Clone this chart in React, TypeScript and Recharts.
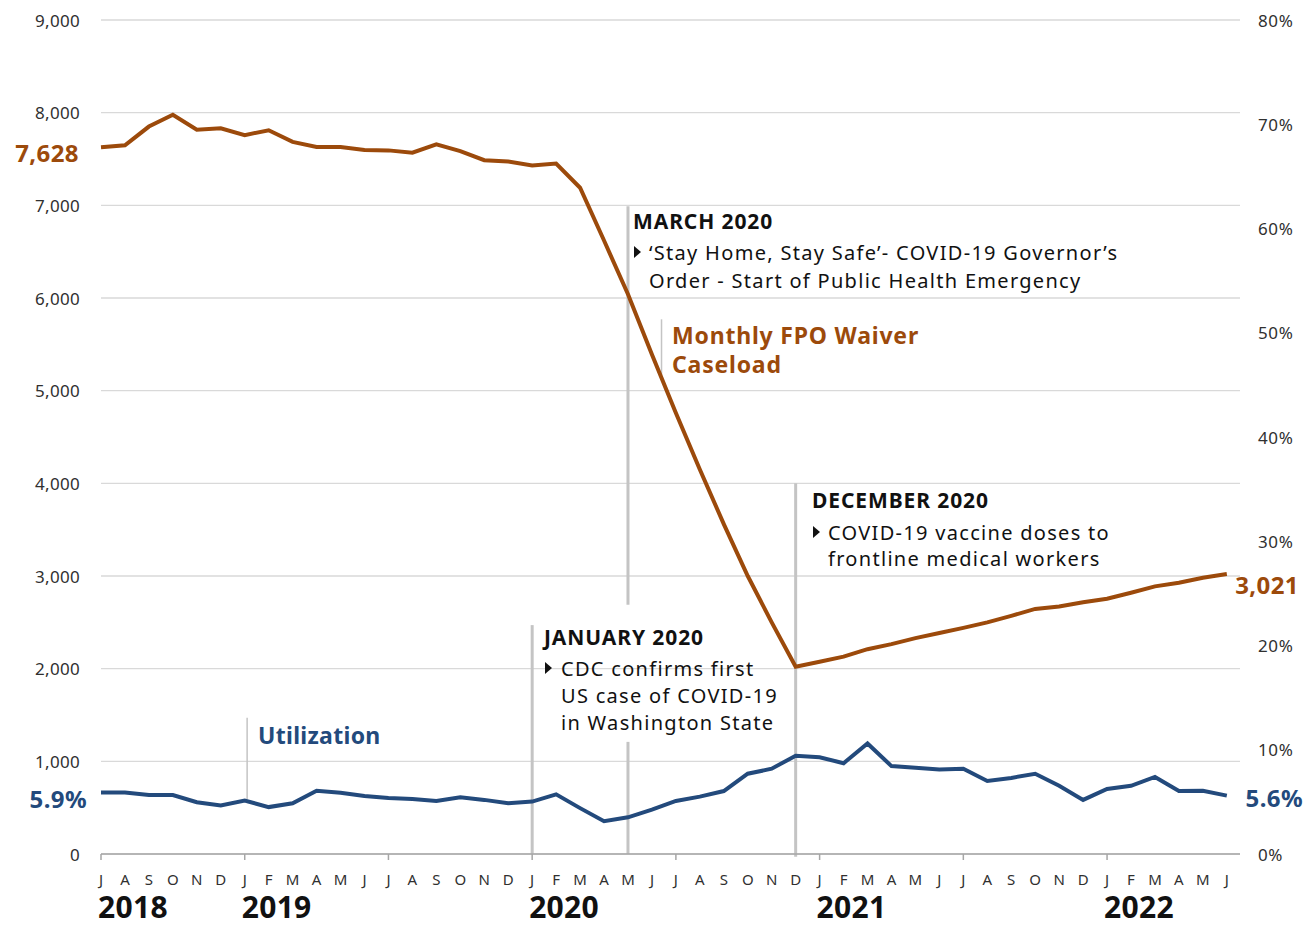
import React from "react";
import { LineChart, Line, XAxis, YAxis, CartesianGrid, ReferenceLine } from "recharts";

// Jul 2018 .. Jun 2022, one entry per month
const monthLetters = [
  "J", "A", "S", "O", "N", "D",
  "J", "F", "M", "A", "M", "J", "J", "A", "S", "O", "N", "D",
  "J", "F", "M", "A", "M", "J", "J", "A", "S", "O", "N", "D",
  "J", "F", "M", "A", "M", "J", "J", "A", "S", "O", "N", "D",
  "J", "F", "M", "A", "M", "J",
];
const yearLabels: Record<number, string> = { 0: "2018", 6: "2019", 18: "2020", 30: "2021", 42: "2022" };

const caseload = [
  7628, 7648, 7850, 7978, 7817, 7832,
  7758, 7810, 7685, 7630, 7630, 7597, 7593, 7568, 7659, 7586, 7487, 7473,
  7429, 7451, 7190, 6620, 6040, 5390, 4760, 4150, 3560, 3000, 2500, 2021,
  2075, 2130, 2210, 2265, 2330, 2385, 2440, 2500, 2570, 2645, 2670, 2717,
  2754, 2819, 2888, 2928, 2982, 3021,
];
const utilization = [
  5.9, 5.9, 5.66, 5.66, 4.97, 4.65,
  5.13, 4.5, 4.87, 6.07, 5.88, 5.57, 5.38, 5.28, 5.09, 5.44, 5.19, 4.87,
  5.03, 5.72, 4.4, 3.14, 3.52, 4.25, 5.09, 5.5, 6.04, 7.7, 8.18, 9.43,
  9.28, 8.71, 10.6, 8.43, 8.27, 8.11, 8.18, 7.01, 7.3, 7.7, 6.54, 5.19,
  6.23, 6.54, 7.39, 6.04, 6.07, 5.6,
];

const leftTicks = [0, 1000, 2000, 3000, 4000, 5000, 6000, 7000, 8000, 9000];
const rightTicks = [0, 10, 20, 30, 40, 50, 60, 70, 80];

const ORANGE = "#9C4A0B";
const BLUE = "#234A7C";
const GRID = "#D9D9D9";
const MARKER = "#C4C4C4";
const FONT = "'Noto Sans', 'Open Sans', sans-serif";

const data = caseload.map((c, i) => ({ i, caseload: c, util: utilization[i] }));
const xTicks = data.map((d) => d.i);

const LeftTick = (props: any) => (
  <text x={80} y={props.y} textAnchor="end" dominantBaseline="central" fontSize={17} letterSpacing={0.3} fill="#303030" fontFamily={FONT}>
    {Number(props.payload.value).toLocaleString("en-US")}
  </text>
);

const RightTick = (props: any) => (
  <text x={1258} y={props.y} textAnchor="start" dominantBaseline="central" fontSize={17} letterSpacing={0.6} fill="#303030" fontFamily={FONT}>
    {props.payload.value}%
  </text>
);

const MonthTick = (props: any) => {
  const i = props.payload.value;
  const { x, y } = props;
  return (
    <g>
      {i % 6 === 0 && <line x1={x} y1={y - 8} x2={x} y2={y - 2} stroke="#A6A6A6" strokeWidth={1.5} />}
      <text x={x} y={y + 17} textAnchor="middle" dominantBaseline="central" fontSize={15} fill="#303030" fontFamily={FONT}>
        {monthLetters[i]}
      </text>
      {yearLabels[i] && (
        <text x={x - 3} y={918} textAnchor="start" fontSize={30} fontWeight={700} letterSpacing={0.3} fill="#111" fontFamily={FONT}>
          {yearLabels[i]}
        </text>
      )}
    </g>
  );
};

const Bullet = ({ x, y }: { x: number; y: number }) => (
  <polygon points={`${x},${y - 6} ${x + 7},${y} ${x},${y + 6}`} fill="#111" />
);

const Overlay = () => {
  const t = { fontFamily: FONT, fill: "#111", dominantBaseline: "central" as const };
  const body = { ...t, fontSize: 20, letterSpacing: 1.3 };
  const head = { ...t, fontSize: 21, fontWeight: 700, letterSpacing: 0.9 };
  const big = { fontFamily: FONT, fontSize: 24, fontWeight: 700, dominantBaseline: "central" as const, letterSpacing: 0.4 };
  const series = { fontFamily: FONT, fontSize: 23, fontWeight: 700, dominantBaseline: "central" as const, letterSpacing: 0.8 };
  return (
    <svg width={1316} height={925} style={{ position: "absolute", left: 0, top: 0, pointerEvents: "none" }}>
      <text x={79} y={152} textAnchor="end" fill={ORANGE} {...big}>
        {caseload[0].toLocaleString("en-US")}
      </text>
      <text x={1299} y={584} textAnchor="end" fill={ORANGE} {...big}>
        {caseload[caseload.length - 1].toLocaleString("en-US")}
      </text>
      <text x={87} y={798} textAnchor="end" fill={BLUE} {...big}>
        {utilization[0].toFixed(1)}%
      </text>
      <text x={1303} y={797} textAnchor="end" fill={BLUE} {...big}>
        {utilization[utilization.length - 1].toFixed(1)}%
      </text>

      <text x={258} y={735} fill={BLUE} {...series} letterSpacing={0.3}>Utilization</text>
      <text x={672} y={335} fill={ORANGE} {...series}>Monthly FPO Waiver</text>
      <text x={672} y={364} fill={ORANGE} {...series}>Caseload</text>

      <text x={633} y={221} {...head}>MARCH 2020</text>
      <Bullet x={634} y={252} />
      <text x={649} y={252} {...body}>‘Stay Home, Stay Safe’- COVID-19 Governor’s</text>
      <text x={649} y={280} {...body}>Order - Start of Public Health Emergency</text>

      <text x={812} y={500} {...head}>DECEMBER 2020</text>
      <Bullet x={813} y={532} />
      <text x={828} y={532} {...body}>COVID-19 vaccine doses to</text>
      <text x={828} y={558} {...body}>frontline medical workers</text>

      <text x={544} y={637} {...head}>JANUARY 2020</text>
      <Bullet x={545} y={668} />
      <text x={561} y={668} {...body}>CDC confirms first</text>
      <text x={561} y={695} {...body}>US case of COVID-19</text>
      <text x={561} y={722} {...body}>in Washington State</text>
    </svg>
  );
};

export default function App() {
  return (
    <div style={{ position: "absolute", left: 0, top: 0, width: 1316, height: 925, background: "#fff" }}>
      <LineChart width={1316} height={925} data={data} margin={{ top: 20, right: 0, bottom: 0, left: 0 }}>
        <CartesianGrid yAxisId="left" vertical={false} stroke={GRID} strokeWidth={1.3} />
        <XAxis
          dataKey="i"
          type="number"
          domain={[0, 47.55]}
          ticks={xTicks}
          interval={0}
          height={71}
          tickLine={false}
          axisLine={{ stroke: "#A6A6A6", strokeWidth: 1.5 }}
          tick={<MonthTick />}
        />
        <YAxis yAxisId="left" domain={[0, 9000]} ticks={leftTicks} width={101} axisLine={false} tickLine={false} tick={<LeftTick />} />
        <YAxis yAxisId="right" orientation="right" domain={[0, 80]} ticks={rightTicks} width={76} axisLine={false} tickLine={false} tick={<RightTick />} />

        <ReferenceLine yAxisId="left" segment={[{ x: 18, y: 2470 }, { x: 18, y: 0 }]} stroke={MARKER} strokeWidth={3} />
        <ReferenceLine yAxisId="left" segment={[{ x: 22, y: 6990 }, { x: 22, y: 2690 }]} stroke={MARKER} strokeWidth={3} />
        <ReferenceLine yAxisId="left" segment={[{ x: 22, y: 1210 }, { x: 22, y: 0 }]} stroke={MARKER} strokeWidth={3} />
        <ReferenceLine yAxisId="left" segment={[{ x: 29, y: 4000 }, { x: 29, y: -30 }]} stroke={MARKER} strokeWidth={3} ifOverflow="visible" />
        <ReferenceLine yAxisId="left" segment={[{ x: 6.1, y: 1470 }, { x: 6.1, y: 590 }]} stroke={MARKER} strokeWidth={1.5} />
        <ReferenceLine yAxisId="left" segment={[{ x: 23.4, y: 5770 }, { x: 23.4, y: 5170 }]} stroke={MARKER} strokeWidth={1.5} />

        <Line yAxisId="left" dataKey="caseload" stroke={ORANGE} strokeWidth={4} dot={false} isAnimationActive={false} />
        <Line yAxisId="right" dataKey="util" stroke={BLUE} strokeWidth={4} dot={false} isAnimationActive={false} />
      </LineChart>
      <Overlay />
    </div>
  );
}
